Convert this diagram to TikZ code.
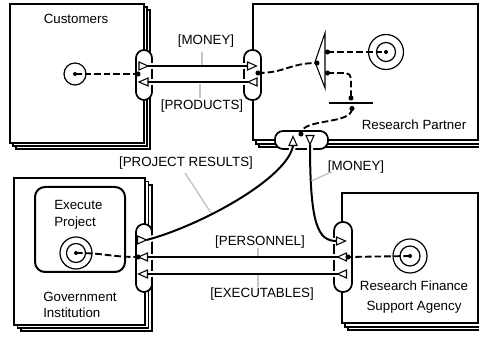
\documentclass[tikz,border=0pt]{standalone}
\usepackage{fontspec}
\setmainfont{Liberation Sans}
\begin{document}
\begin{tikzpicture}[x=0.75pt,y=-0.75pt,
  shadowbox/.style={draw=black, fill=white, line width=0.8pt},
  frontbox/.style={draw=black, fill=white, line width=1.5pt, rectangle, inner sep=0pt},
  port/.style={draw=black, fill=white, line width=1.3pt, rectangle, rounded corners=6pt, inner sep=0pt},
  flow/.style={line width=1.5pt, preaction={draw=white, line width=4.5pt}},
  dashflow/.style={line width=1.4pt, dash pattern=on 5pt off 2.2pt},
  dotmark/.style={circle, fill=black, inner sep=0pt, minimum size=3.8pt},
  ring/.style={circle, draw=black, line width=0.9pt, inner sep=0pt},
  tickline/.style={draw=gray!45, line width=1.1pt},
  lbl/.style={font=\fontsize{10}{12}\selectfont, inner sep=0pt},
  tri/.style={draw=black, fill=white, line width=0.8pt, line join=miter},
  triR/.pic={\draw[tri] (-4.5,-4) -- (4.5,0) -- (-4.5,4) -- cycle;},
  triL/.pic={\draw[tri] (4.5,-4) -- (-4.5,0) -- (4.5,4) -- cycle;},
  triU/.pic={\draw[tri] (-4,4.5) -- (0,-4.5) -- (4,4.5) -- cycle;},
  triD/.pic={\draw[tri] (-4,-4.5) -- (0,4.5) -- (4,-4.5) -- cycle;},
]
\useasboundingbox (0,0) rectangle (479,341);

% ---- shadows
\draw[shadowbox] (16,10) rectangle (150,149);
\draw[shadowbox] (13,7) rectangle (147,146);
\draw[shadowbox] (259,10) rectangle (484,147);
\draw[shadowbox] (256,7) rectangle (481,144);
\draw[shadowbox] (21,185) rectangle (152,331);
\draw[shadowbox] (17.5,181.5) rectangle (148.5,328);
\draw[shadowbox] (348,199) rectangle (484,330);
\draw[shadowbox] (345,196) rectangle (481,327);

% ---- front boxes
\node[frontbox, minimum width=100.5pt, minimum height=104.25pt] (cust) at (77,73.5) {};
\node[frontbox, minimum width=168.75pt, minimum height=102pt] (rpart) at (365.5,72) {};
\node[frontbox, minimum width=98.25pt, minimum height=110.25pt] (gov) at (79.5,251.5) {};
\node[frontbox, minimum width=102pt, minimum height=97.5pt] (rfsa) at (410,258) {};

% ---- inner process box
\node[draw=black, fill=white, line width=1.5pt, rectangle, rounded corners=7.5pt,
      minimum width=67.5pt, minimum height=63.75pt, inner sep=0pt] (exec) at (80,229.5) {};

% ---- labels
\node[lbl] (lCust) at (76,19) {Customers};
\node[lbl] (lMoney) at (206,41) {[MONEY]};
\node[lbl] (lProd) at (202,106) {[PRODUCTS]};
\node[lbl] (lRP) at (414,125) {Research Partner};
\node[lbl] (lPR) at (186,163) {[PROJECT RESULTS]};
\node[lbl] (lM2) at (356,167) {[MONEY]};
\node[lbl, font=\fontsize{10}{12.75}\selectfont, align=left, anchor=west] (lExec) at (54,214.5) {Execute\\Project};
\node[lbl, align=left, anchor=west] (lGov) at (43,305) {Government\\Institution};
\node[lbl] (lPers) at (260,242) {[PERSONNEL]};
\node[lbl] (lExe) at (262,294) {[EXECUTABLES]};
\node[lbl, font=\fontsize{10}{15}\selectfont, align=center] (lRF) at (414,297) {Research Finance\\Support Agency};

% ---- circles
\node[ring, minimum size=16.5pt] (cCirc) at (75,74) {};
\node[ring, minimum size=26.25pt] (rOut) at (386,52) {};
\node[ring, minimum size=14.25pt] (rIn) at (386,52) {};
\node[ring, minimum size=24pt] (gOut) at (76,253) {};
\node[ring, minimum size=14.25pt] (gIn) at (76,253) {};
\node[ring, minimum size=25.5pt] (fOut) at (410,256) {};
\node[ring, minimum size=15pt] (fIn) at (410,256) {};

% ---- split and join inside research partner
\draw[tri] (325,33) -- (315,62) -- (325,88) -- cycle;
\coordinate (barL) at (329,103);
\coordinate (barR) at (373,103);
\draw[line width=0.8pt] (barL) -- (barR);

% ---- ports
\node[port, minimum width=12pt, minimum height=37.5pt] (cport) at (144,75) {};
\node[port, minimum width=12.75pt, minimum height=37.5pt] (rport) at (252.5,75) {};
\node[port, minimum width=39.75pt, minimum height=13.5pt] (rbport) at (301.5,140) {};
\node[port, minimum width=12pt, minimum height=51pt] (gport) at (144,258) {};
\node[port, minimum width=13.5pt, minimum height=52.5pt, rounded corners=6.5pt] (fport) at (343,257) {};

% ---- flow end points
\coordinate (mC) at (148,66);   \coordinate (mR) at (247.5,66);
\coordinate (pR) at (248,82);   \coordinate (pC) at (148,82);
\coordinate (prG) at (146.5,240); \coordinate (prR) at (293,145.5);
\coordinate (bmR) at (310,144.5); \coordinate (bmF) at (336.5,241);
\coordinate (peF) at (337.5,257); \coordinate (peG) at (147.5,257);
\coordinate (exF) at (337.5,274); \coordinate (exG) at (147.5,274);

% ---- flows
\draw[flow] (mC) -- (mR);
\draw[flow] (pR) -- (pC);
\draw[flow] (prG) .. controls (200,226) and (288,178) .. (prR);
\draw[flow] (bmR) .. controls (310,225) and (318,241) .. (bmF);
\draw[flow] (peF) -- (peG);
\draw[flow] (exF) -- (exG);

% ---- flow marks
\pic at (143.5,66) {triR};
\pic at (252,66) {triR};
\pic at (143.5,82) {triL};
\pic at (252.5,82) {triL};
\pic at (142,240) {triR};
\pic at (293,141) {triU};
\pic at (310,140) {triD};
\pic at (341,241) {triR};
\pic at (342,257) {triL};
\pic at (143,257) {triL};
\pic at (342,274) {triL};
\pic at (143,274) {triL};

% ---- label ticks
\coordinate (t1a) at (202,52);  \coordinate (t1b) at (202,65);
\coordinate (t2a) at (200,98);  \coordinate (t2b) at (200,84);
\coordinate (t3a) at (185,173); \coordinate (t3b) at (211,213);
\coordinate (t4a) at (331,172); \coordinate (t4b) at (311.5,181);
\coordinate (t5a) at (258,248); \coordinate (t5b) at (258,256);
\coordinate (t6a) at (258,287); \coordinate (t6b) at (258,275);
\draw[tickline] (t1a) -- (t1b);
\draw[tickline] (t2a) -- (t2b);
\draw[tickline] (t3a) -- (t3b);
\draw[tickline] (t4a) -- (t4b);
\draw[tickline] (t5a) -- (t5b);
\draw[tickline] (t6a) -- (t6b);

% ---- dots
\node[dotmark] (dC) at (138,74) {};
\node[dotmark, minimum size=3pt] (dCc) at (75,74) {};
\node[dotmark] (dR) at (258,73) {};
\node[dotmark] (dA) at (317,63) {};
\node[dotmark] (dB1) at (327.5,52) {};
\node[dotmark] (dB2) at (327.5,73) {};
\node[dotmark, minimum size=3pt] (dT) at (386,52) {};
\node[dotmark] (dBu) at (351,98) {};
\node[dotmark] (dBd) at (352,108.5) {};
\node[dotmark] (dRB) at (301,134) {};
\node[dotmark] (dG) at (138,257) {};
\node[dotmark, minimum size=3pt] (dGc) at (76,253) {};
\node[dotmark] (dF) at (348,257) {};
\node[dotmark, minimum size=3pt] (dFc) at (410,256) {};

% ---- control flow (dashed)
\draw[dashflow] (dCc.center) -- (dC.center);
\draw[dashflow] (dR.center) .. controls (285,73) and (290,63) .. (dA.center);
\draw[dashflow] (dB1.center) -- (dT.center);
\draw[dashflow, rounded corners=4pt] (dB2.center) -| (dBu.center);
\draw[dashflow] (dBd.center) .. controls (352,125) and (301,118) .. (dRB.center);
\draw[dashflow] (dGc.center) .. controls (105,253) and (110,257) .. (dG.center);
\draw[dashflow] (dFc.center) -- (dF.center);
\end{tikzpicture}
\end{document}
